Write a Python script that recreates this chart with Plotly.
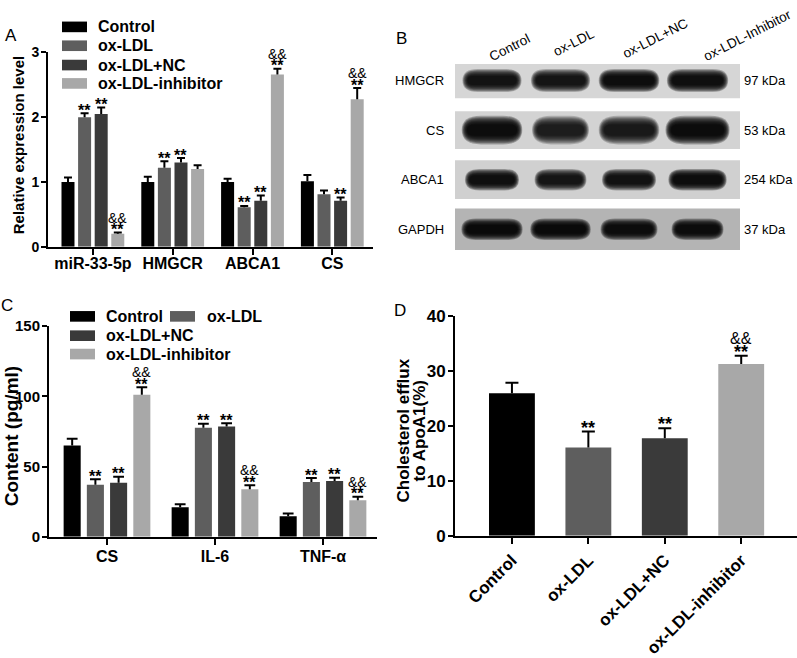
import plotly.graph_objects as go

W, H = 797, 658
def px(x): return x / W
def py(y): return 1 - y / H

FONT = "Liberation Sans, Arial, sans-serif"

groups = ["Control", "ox-LDL", "ox-LDL+NC", "ox-LDL-inhibitor"]
colors = ["#000000", "#5e5e5e", "#3a3a3a", "#a8a8a8"]

# ---------------- Panel A data ----------------
a_genes = ["miR-33-5p", "HMGCR", "ABCA1", "CS"]
a_vals = {
    "Control":          [1.00, 1.00, 1.00, 1.01],
    "ox-LDL":           [2.00, 1.22, 0.61, 0.81],
    "ox-LDL+NC":        [2.05, 1.30, 0.71, 0.71],
    "ox-LDL-inhibitor": [0.20, 1.20, 2.66, 2.28],
}
a_errs = {
    "Control":          [0.07, 0.08, 0.05, 0.10],
    "ox-LDL":           [0.06, 0.10, 0.02, 0.06],
    "ox-LDL+NC":        [0.10, 0.07, 0.08, 0.05],
    "ox-LDL-inhibitor": [0.02, 0.06, 0.09, 0.17],
}
a_star = {
    "ox-LDL":           ["**", "**", "**", ""],
    "ox-LDL+NC":        ["**", "**", "**", "**"],
    "ox-LDL-inhibitor": ["**", "", "**", "**"],
}
a_amp = {"ox-LDL-inhibitor": ["&&", "", "&&", "&&"]}

# ---------------- Panel B data ----------------
b_proteins = ["HMGCR", "CS", "ABCA1", "GAPDH"]
b_kda = ["97 kDa", "53 kDa", "254 kDa", "37 kDa"]
b_lanes = ["Control", "ox-LDL", "ox-LDL+NC", "ox-LDL-Inhibitor"]
b_intensity = {
    "HMGCR": [0.86, 0.82, 0.96, 0.93],
    "CS":    [0.96, 0.72, 0.76, 0.97],
    "ABCA1": [0.92, 0.80, 0.85, 0.95],
    "GAPDH": [0.97, 0.97, 0.93, 0.91],
}
b_width = {
    "HMGCR": [0.83, 0.83, 0.85, 0.86],
    "CS":    [0.85, 0.80, 0.85, 0.90],
    "ABCA1": [0.76, 0.73, 0.76, 0.82],
    "GAPDH": [0.86, 0.85, 0.80, 0.73],
}
b_thick = [0.36, 0.45, 0.34, 0.34]
b_bg = ["#d6d6d6", "#d3d3d3", "#d0d0d0", "#b4b4b4"]

# ---------------- Panel C data ----------------
c_cats = ["CS", "IL-6", "TNF-α"]
c_vals = {
    "Control":          [65.0, 21.0, 14.5],
    "ox-LDL":           [37.0, 77.5, 39.0],
    "ox-LDL+NC":        [38.5, 78.5, 39.7],
    "ox-LDL-inhibitor": [101.0, 33.8, 26.0],
}
c_errs = {
    "Control":          [4.8, 2.2, 2.0],
    "ox-LDL":           [4.0, 3.0, 2.8],
    "ox-LDL+NC":        [4.2, 2.3, 2.3],
    "ox-LDL-inhibitor": [5.5, 2.8, 2.5],
}
c_star = {
    "ox-LDL":           ["**", "**", "**"],
    "ox-LDL+NC":        ["**", "**", "**"],
    "ox-LDL-inhibitor": ["**", "**", "**"],
}
c_amp = {"ox-LDL-inhibitor": ["&&", "&&", "&&"]}

# ---------------- Panel D data ----------------
d_vals = [26.0, 16.1, 17.8, 31.3]
d_errs = [1.9, 2.9, 1.8, 1.5]
d_star = ["", "**", "**", "**"]
d_amp = ["", "", "", "&&"]

fig = go.Figure()
annotations = []
shapes = []

def err_trace(xs, ys, es, cap, xa, ya):
    ex, ey = [], []
    for x, y, e in zip(xs, ys, es):
        ex += [x, x, None, x - cap, x + cap, None]
        ey += [y, y + e, None, y + e, y + e, None]
    return go.Scatter(x=ex, y=ey, mode="lines", line=dict(color="black", width=2),
                      xaxis=xa, yaxis=ya, showlegend=False, hoverinfo="skip")

def add_marks(xs, ys, es, stars, amps, xref, yref, fs_star, fs_amp, s_shift, a_shift):
    for k, x in enumerate(xs):
        top = ys[k] + es[k]
        if stars and stars[k]:
            annotations.append(dict(x=x, y=top, xref=xref, yref=yref, text=stars[k],
                                    showarrow=False, yanchor="middle", yshift=s_shift,
                                    font=dict(family=FONT, size=fs_star, color="black", weight="bold")))
        if amps and amps[k]:
            annotations.append(dict(x=x, y=top, xref=xref, yref=yref, text=amps[k],
                                    showarrow=False, yanchor="middle", yshift=a_shift,
                                    font=dict(family=FONT, size=fs_amp, color="black")))

# ---------- Panel A ----------
a_step, a_bw = 0.208, 0.163
for i, g in enumerate(groups):
    xs = [k + (i - 1.5) * a_step for k in range(len(a_genes))]
    fig.add_trace(go.Bar(x=xs, y=a_vals[g], width=a_bw, marker=dict(color=colors[i], line_width=0),
                         xaxis="x", yaxis="y", showlegend=False))
    fig.add_trace(err_trace(xs, a_vals[g], a_errs[g], 0.05, "x", "y"))
    add_marks(xs, a_vals[g], a_errs[g], a_star.get(g), a_amp.get(g), "x", "y", 16, 14, 3, 15)

# ---------- Panel B ----------
lane_px = 68.5
row_px = 51.3
fig.add_trace(go.Scatter(x=list(range(len(b_lanes))), y=[0] * len(b_lanes), mode="markers",
                         marker=dict(opacity=0), xaxis="x2", yaxis="y2", showlegend=False,
                         hoverinfo="skip"))
strip_half = [0.36, 0.38, 0.39, 0.42]
for r, p in enumerate(b_proteins):
    shapes.append(dict(type="rect", xref="x2", yref="y2", x0=-0.54, x1=3.62,
                       y0=r - strip_half[r], y1=r + strip_half[r],
                       fillcolor=b_bg[r], line=dict(width=0), layer="above"))

def stadium(xc, yc, w, h):
    x0, x1 = xc - w / 2, xc + w / 2
    y0, y1 = yc - h / 2, yc + h / 2
    rx = min((h / 2) * row_px / lane_px * 1.3, w / 2)
    ym = yc
    return (f"M {x0+rx},{y0} L {x1-rx},{y0} Q {x1},{y0} {x1},{ym} Q {x1},{y1} {x1-rx},{y1} "
            f"L {x0+rx},{y1} Q {x0},{y1} {x0},{ym} Q {x0},{y0} {x0+rx},{y0} Z")

n_layers = 9
for r, p in enumerate(b_proteins):
    for ln in range(len(b_lanes)):
        I = b_intensity[p][ln]
        w = b_width[p][ln]
        for j in range(n_layers):
            f = j / (n_layers - 1)
            sw = 1.04 - 0.18 * f
            sh = 1.28 - 0.78 * f
            al = 0.27 * I
            shapes.append(dict(type="path", xref="x2", yref="y2",
                               path=stadium(ln, r, w * sw, b_thick[r] * sh),
                               fillcolor=f"rgba(0,0,0,{al:.3f})", line=dict(width=0),
                               layer="above"))
    annotations.append(dict(x=px(446), y=r, xref="paper", yref="y2", text=p, showarrow=False,
                            xanchor="right", yanchor="middle",
                            font=dict(family=FONT, size=13, color="black")))
    annotations.append(dict(x=px(742), y=r, xref="paper", yref="y2", text=b_kda[r], showarrow=False,
                            xanchor="left", yanchor="middle",
                            font=dict(family=FONT, size=13, color="black")))
lane_lab_pos = [(510, 40), (574, 35), (655, 31), (747, 27)]
for t, (lx, ly) in zip(b_lanes, lane_lab_pos):
    annotations.append(dict(x=px(lx), y=py(ly), xref="paper", yref="paper", text=t, showarrow=False,
                            textangle=-27, xanchor="center", yanchor="middle",
                            font=dict(family=FONT, size=13.5, color="black")))

# ---------- Panel C ----------
c_step, c_bw = 0.215, 0.158
for i, g in enumerate(groups):
    xs = [k + (i - 1.5) * c_step for k in range(len(c_cats))]
    fig.add_trace(go.Bar(x=xs, y=c_vals[g], width=c_bw, marker=dict(color=colors[i], line_width=0),
                         xaxis="x3", yaxis="y3", showlegend=False))
    fig.add_trace(err_trace(xs, c_vals[g], c_errs[g], 0.05, "x3", "y3"))
    add_marks(xs, c_vals[g], c_errs[g], c_star.get(g), c_amp.get(g), "x3", "y3", 16, 14, 3, 15)

# ---------- Panel D ----------
d_x = list(range(len(groups)))
fig.add_trace(go.Bar(x=d_x, y=d_vals, width=0.6, marker=dict(color=colors, line_width=0),
                     xaxis="x4", yaxis="y4", showlegend=False))
fig.add_trace(err_trace(d_x, d_vals, d_errs, 0.085, "x4", "y4"))
add_marks(d_x, d_vals, d_errs, d_star, d_amp, "x4", "y4", 18, 16, 4, 17)

# ---------- Axes ----------
def yax(domain, rng, dtick, fs, anchor):
    return dict(domain=domain, range=rng, dtick=dtick, showline=True, linewidth=2, linecolor="black",
                ticks="outside", ticklen=5, tickwidth=2, tickcolor="black", showgrid=False,
                zeroline=False, anchor=anchor, ticklabelstandoff=-1,
                tickfont=dict(family=FONT, size=fs, color="black", weight="bold"))

def xax(domain, rng, labels, fs, anchor, angle=0, standoff=0):
    return dict(domain=domain, range=rng, tickvals=list(range(len(labels))), ticktext=labels,
                showline=True, linewidth=2, linecolor="black", ticks="outside", ticklen=6,
                tickwidth=2, tickcolor="black", showgrid=False, zeroline=False, anchor=anchor,
                tickangle=angle, ticklabelstandoff=standoff,
                tickfont=dict(family=FONT, size=fs, color="black", weight="bold"))

layout = dict(
    width=W, height=H, margin=dict(l=0, r=0, t=0, b=0),
    paper_bgcolor="white", plot_bgcolor="white", barmode="overlay",
    xaxis=xax([px(48), px(373)], [-0.5625, 3.51], a_genes, 16, "y", standoff=-5),
    yaxis=yax([py(246), py(45)], [0, 3], 1, 14, "x"),
    xaxis2=dict(domain=[px(455), px(740)], range=[-0.54, 3.62], visible=False, anchor="y2"),
    yaxis2=dict(domain=[py(250), py(57)], range=[(250 - 74) / row_px, (57 - 74) / row_px],
                visible=False, anchor="x2"),
    xaxis3=xax([px(49), px(377)], [-0.537, 2.5], c_cats, 16, "y3", standoff=-2),
    yaxis3=yax([py(546), py(328)], [0, 150], 50, 15, "x3"),
    xaxis4=xax([px(455), px(797)], [-0.745, 3.73], groups, 17, "y4", angle=-45),
    yaxis4=yax([py(545), py(318)], [0, 40], 10, 17, "x4"),
)

# ---------- Legends (manual) ----------
def legend_item(x_sw, y_c, color, text, x_txt):
    shapes.append(dict(type="rect", xref="paper", yref="paper", x0=px(x_sw), x1=px(x_sw + 25),
                       y0=py(y_c + 5.5), y1=py(y_c - 5.5), fillcolor=color, line=dict(width=0)))
    annotations.append(dict(x=px(x_txt), y=py(y_c), xref="paper", yref="paper", text=text,
                            showarrow=False, xanchor="left", yanchor="middle",
                            font=dict(family=FONT, size=16, color="black", weight="bold")))

for i, (g, yc) in enumerate(zip(groups, [18.5, 38, 58, 77])):
    legend_item(62, yc, colors[i], g, 96)
legend_item(70, 318, colors[0], groups[0], 104)
legend_item(170, 318, colors[1], groups[1], 205)
legend_item(70, 338, colors[2], groups[2], 104)
legend_item(70, 357, colors[3], groups[3], 104)

# ---------- Titles & panel letters ----------
annotations.append(dict(x=px(18), y=py(141), xref="paper", yref="paper", text="Relative expression level",
                        textangle=-90, showarrow=False, xanchor="center", yanchor="middle",
                        font=dict(family=FONT, size=15, color="black", weight="bold")))
annotations.append(dict(x=px(11), y=py(442), xref="paper", yref="paper", text="Content (pg/ml)",
                        textangle=-90, showarrow=False, xanchor="center", yanchor="middle",
                        font=dict(family=FONT, size=19, color="black", weight="bold")))
annotations.append(dict(x=px(403), y=py(436), xref="paper", yref="paper", text="Cholesterol efflux",
                        textangle=-90, showarrow=False, xanchor="center", yanchor="middle",
                        font=dict(family=FONT, size=17, color="black", weight="bold")))
annotations.append(dict(x=px(419), y=py(436), xref="paper", yref="paper", text="to ApoA1(%)",
                        textangle=-90, showarrow=False, xanchor="center", yanchor="middle",
                        font=dict(family=FONT, size=17, color="black", weight="bold")))
for t, (lx, ly) in zip(["A", "B", "C", "D"], [(11, 27), (401, 31), (7, 307), (400, 312)]):
    annotations.append(dict(x=px(lx), y=py(ly), xref="paper", yref="paper", text=t, showarrow=False,
                            xanchor="center", yanchor="middle",
                            font=dict(family=FONT, size=17, color="black")))

layout["annotations"] = annotations
layout["shapes"] = shapes
fig.update_layout(**layout)
fig.write_html("out.html", config={"displayModeBar": False},
               post_script="document.body.style.margin='0';")
